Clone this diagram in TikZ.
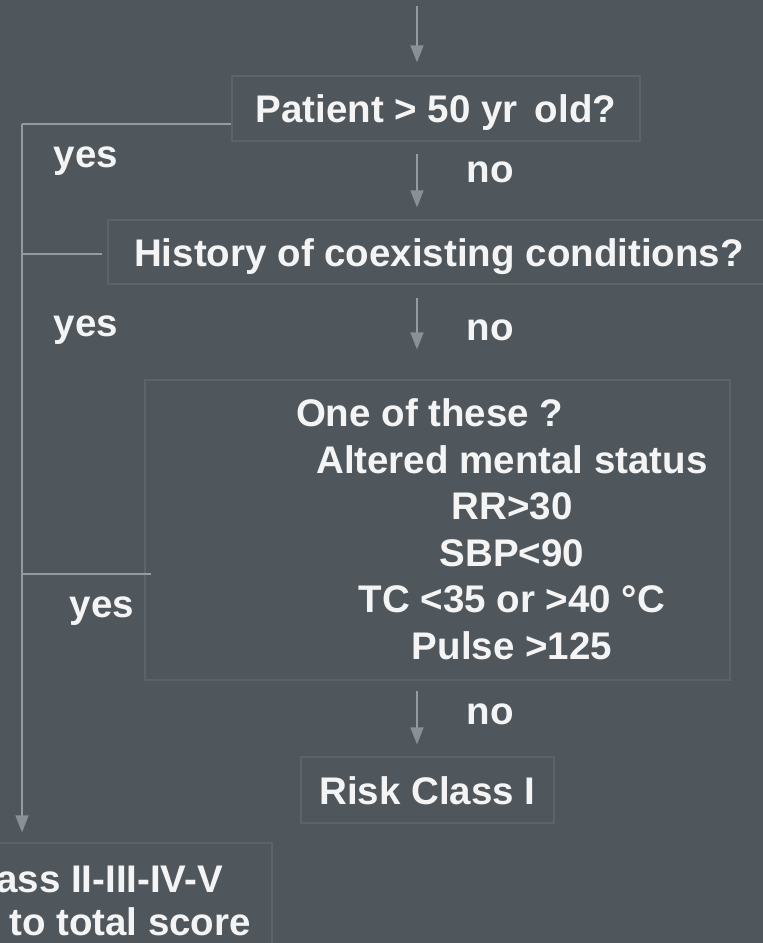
\documentclass[tikz,border=0pt]{standalone}
\usepackage{fontspec}
\setmainfont{Liberation Sans}
\usetikzlibrary{arrows.meta,calc}
\definecolor{bgc}{RGB}{79,87,92}
\definecolor{boxc}{RGB}{92,100,104}
\definecolor{linec}{RGB}{150,155,158}
\definecolor{headc}{RGB}{138,144,147}
\definecolor{txtc}{RGB}{244,244,244}
\begin{document}
\begin{tikzpicture}[x=1pt,y=-1pt,
  every node/.style={font=\fontsize{38.5}{46.5}\selectfont\bfseries, text=txtc},
  tx/.style={text height=36.5pt, text depth=8pt},
  box/.style={draw=boxc, line width=1.2pt, inner sep=0pt, tx},
  lbl/.style={inner sep=0pt},
  ln/.style={draw=linec, line width=1.6pt},
  arr/.style={draw=linec, line width=1.6pt, -{Triangle[width=13pt,length=17pt,color=headc]}}]
\fill[bgc] (0,0) rectangle (763,943);
\clip (0,0) rectangle (763,943);
\useasboundingbox (0,0) rectangle (763,943);
% boxes
\node[box, minimum width=408pt, minimum height=65pt] (p) at (436,108.5) {Patient > 50 yr\, old?};
\node[box, minimum width=662pt, minimum height=64pt] (h) at (439,252) {History of coexisting conditions?};
\node[box, minimum width=585pt, minimum height=300pt, text height=, text depth=] (c) at (437.5,530) {};
\node[lbl, align=center] (ct) at (512,529) {\makebox[432pt][l]{One of these ?}\\Altered mental status\\RR>30\\SBP<90\\TC <35 or >40 °C\\Pulse >125};
\node[box, minimum width=253pt, minimum height=66pt] (r1) at (427.5,790) {Risk Class I};
\node[box, minimum width=380pt, minimum height=160pt, text height=, text depth=] (r5) at (82,923) {};
\node[lbl, anchor=base west] (r5a) at (-4,892) {ass II-III-IV-V};
\node[lbl, anchor=base west] (r5b) at (9,935) {to total score};
% coordinates
\coordinate (ax) at (417,0);
\coordinate (top) at (417,6);
\coordinate (j1) at (22,124);
\coordinate (j2) at (22,254);
\coordinate (j3) at (22,574);
% main arrows
\draw[arr, shorten >=13pt] (top) -- (p.north -| ax);
\draw[arr, shorten <=12pt, shorten >=12pt] (p.south -| ax) -- (h.north -| ax);
\draw[arr, shorten <=13pt, shorten >=30pt] (h.south -| ax) -- (c.north -| ax);
\draw[arr, shorten <=10pt, shorten >=12pt] (c.south -| ax) -- (r1.north -| ax);
% yes branch
\draw[ln] (p.west |- j1) -- (j1);
\draw[ln, shorten <=5pt] (h.west |- j2) -- (j2);
\draw[ln, shorten <=-7pt] (c.west |- j3) -- (j3);
\draw[arr, shorten >=10pt] (j1) -- (j1 |- r5.north);
% labels
\node[lbl] (y1) at (86,161) {yes};
\node[lbl] (n1) at (490,172) {no};
\node[lbl] (y2) at (86,330) {yes};
\node[lbl] (n2) at (490,330) {no};
\node[lbl] (y3) at (102,611) {yes};
\node[lbl] (n3) at (490,714) {no};
\end{tikzpicture}
\end{document}
